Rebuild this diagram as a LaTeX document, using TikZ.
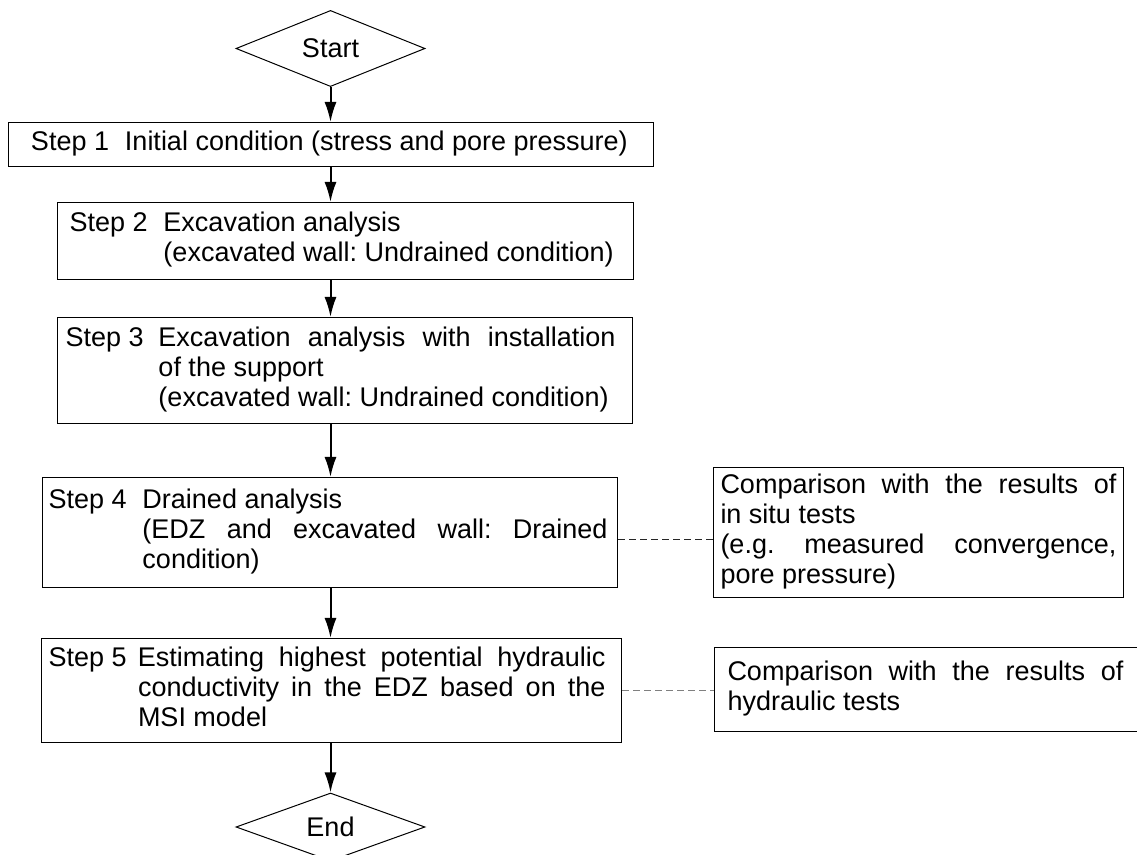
\documentclass[tikz,border=0pt]{standalone}
\usepackage{fontspec}
\setmainfont{Liberation Sans}
\usepackage{array}
\usetikzlibrary{shapes.geometric, arrows.meta}
\hbadness=10000
\hyphenpenalty=10000
\frenchspacing

\begin{document}
\begin{tikzpicture}[
        x=0.5pt, y=-0.5pt,
        >={Latex[length=10pt,width=6pt]},
        every node/.style={font=\fontsize{13.5}{15}\selectfont},
        terminal/.style={draw, diamond, line width=0.5pt, minimum width=94.5pt, minimum height=36.5pt, inner sep=0pt},
        stepbox/.style={draw, rectangle, line width=0.5pt, anchor=north west, align=justify, inner ysep=0pt},
        flow/.style={->, line width=1pt},
        link/.style={line width=0.5pt, dash pattern=on 3.5pt off 2pt}
    ]
    \useasboundingbox (0,0) rectangle (1137,855);

    \node[terminal] (start) at (330.5,48.5) {Start};

    \node[stepbox, inner xsep=11.25pt, text width=300pt, minimum height=22pt] (step1) at (8,122)
        {\begin{tabular}{@{}p{47pt}@{}l@{}}Step 1 & Initial condition (stress and pore pressure)\end{tabular}};
    \node[stepbox, inner xsep=6pt, text width=276pt, minimum height=38.5pt] (step2) at (57,202)
        {\begin{tabular}{@{}p{47pt}@{}l@{}}Step 2 & Excavation analysis\\ & (excavated wall: Undrained condition)\end{tabular}};
    \node[stepbox, inner xsep=4pt, text width=279.5pt, minimum height=53pt] (step3) at (57,317)
        {\begin{tabular}{@{}p{46.5pt}@{}p{228.5pt}@{}}Step 3 & Excavation analysis with installation\linebreak of the support\newline (excavated wall: Undrained condition)\end{tabular}};
    \node[stepbox, inner xsep=3pt, text width=281.5pt, minimum height=55pt] (step4) at (42,477)
        {\begin{tabular}{@{}p{47pt}@{}p{232.5pt}@{}}Step 4 & Drained analysis\newline (EDZ and excavated wall: Drained\linebreak condition)\end{tabular}};
    \node[stepbox, inner xsep=3.5pt, text width=283pt, minimum height=52pt] (step5) at (41,638)
        {\begin{tabular}{@{}p{44.75pt}@{}p{233.75pt}@{}}Step 5 & Estimating highest potential hydraulic\linebreak conductivity in the EDZ based on the\linebreak MSI model\end{tabular}};

    \node[terminal, minimum height=34pt] (stop) at (330.5,827) {End};

    % checks against the tests
    \node[stepbox, inner xsep=3.5pt, text width=198pt, minimum height=65pt] (side1) at (713,467)
        {\begin{tabular}{@{}p{198pt}@{}}Comparison with the results of\linebreak in situ tests\newline (e.g. measured convergence,\linebreak pore pressure)\end{tabular}};
    \node[stepbox, inner xsep=6.5pt, text width=240pt, minimum height=42pt] (side2) at (714,647)
        {\begin{tabular}{@{}p{198pt}@{}}Comparison with the results of\linebreak hydraulic tests\end{tabular}};

    \draw[flow] (start.south) -- (step1.north -| start.south);
    \draw[flow] (step1.south -| start.south) -- (step2.north -| start.south);
    \draw[flow] (step2.south -| start.south) -- (step3.north -| start.south);
    \draw[flow] (step3.south -| start.south) -- (step4.north -| start.south);
    \draw[flow] (step4.south -| start.south) -- (step5.north -| start.south);
    \draw[flow] (step5.south -| start.south) -- (stop.north);

    \draw[link, black!85] ([yshift=-3.5pt]step4.east) -- ([yshift=-3.5pt]step4.east -| side1.west);
    \draw[link, gray] (step5.east) -- (step5.east -| side2.west);

\end{tikzpicture}
\end{document}
